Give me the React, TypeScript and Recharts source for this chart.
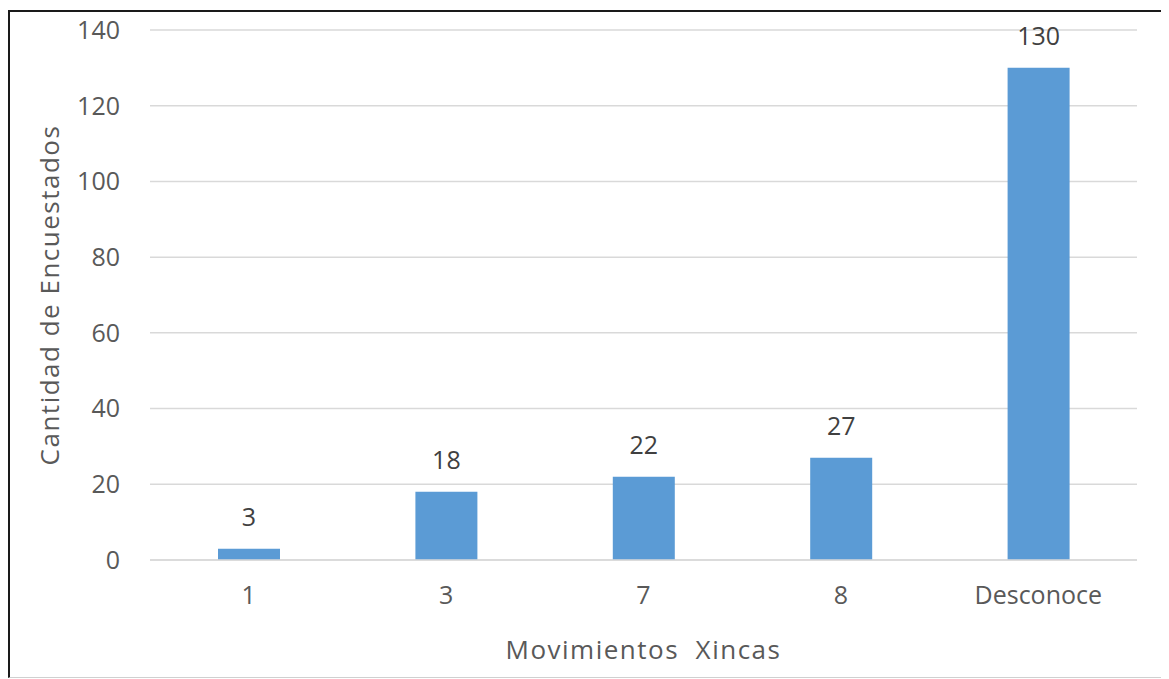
import { BarChart, Bar, XAxis, YAxis, CartesianGrid, LabelList, Label } from "recharts";

const categories = ["1", "3", "7", "8", "Desconoce"];
const counts = [3, 18, 22, 27, 130];
const yTicks = [0, 20, 40, 60, 80, 100, 120, 140];

const data = categories.map((name, i) => ({ name, value: counts[i] }));

const FONT = "'Open Sans', sans-serif";
const TICK = { fill: "#595959", fontSize: 25, fontFamily: FONT };
const TITLE = { fill: "#595959", fontSize: 26, fontFamily: FONT, letterSpacing: 1.5 };

export default function App() {
  return (
    <div
      style={{
        marginTop: 2,
        width: 1161,
        height: 668,
        boxSizing: "border-box",
        borderTop: "2px solid #1a1a1a",
        borderLeft: "2px solid #1a1a1a",
        borderBottom: "1px solid #d0d0d0",
        background: "#fff",
      }}
    >
      <BarChart
        width={1159}
        height={665}
        data={data}
        margin={{ top: 18, right: 32, bottom: 0, left: 0 }}
      >
        <CartesianGrid vertical={false} stroke="#d9d9d9" strokeWidth={1.5} />
        <XAxis
          dataKey="name"
          height={117}
          tickLine={false}
          tickSize={0}
          tickMargin={26}
          axisLine={{ stroke: "#d9d9d9", strokeWidth: 1.5 }}
          tick={TICK}
        >
          <Label
            value={"Movimientos\u00a0 Xincas"}
            position="insideBottom"
            offset={18}
            style={TITLE}
          />
        </XAxis>
        <YAxis
          width={140}
          domain={[0, 140]}
          ticks={yTicks}
          axisLine={false}
          tickLine={false}
          tickSize={0}
          tickMargin={30}
          tick={TICK}
        >
          <Label
            value="Cantidad de Encuestados"
            angle={-90}
            position="insideLeft"
            offset={40}
            style={{ ...TITLE, textAnchor: "middle" }}
          />
        </YAxis>
        <Bar dataKey="value" fill="#5B9BD5" barSize={62} isAnimationActive={false}>
          <LabelList
            dataKey="value"
            position="top"
            offset={23}
            style={{ fill: "#404040", fontSize: 25, fontFamily: FONT }}
          />
        </Bar>
      </BarChart>
    </div>
  );
}
